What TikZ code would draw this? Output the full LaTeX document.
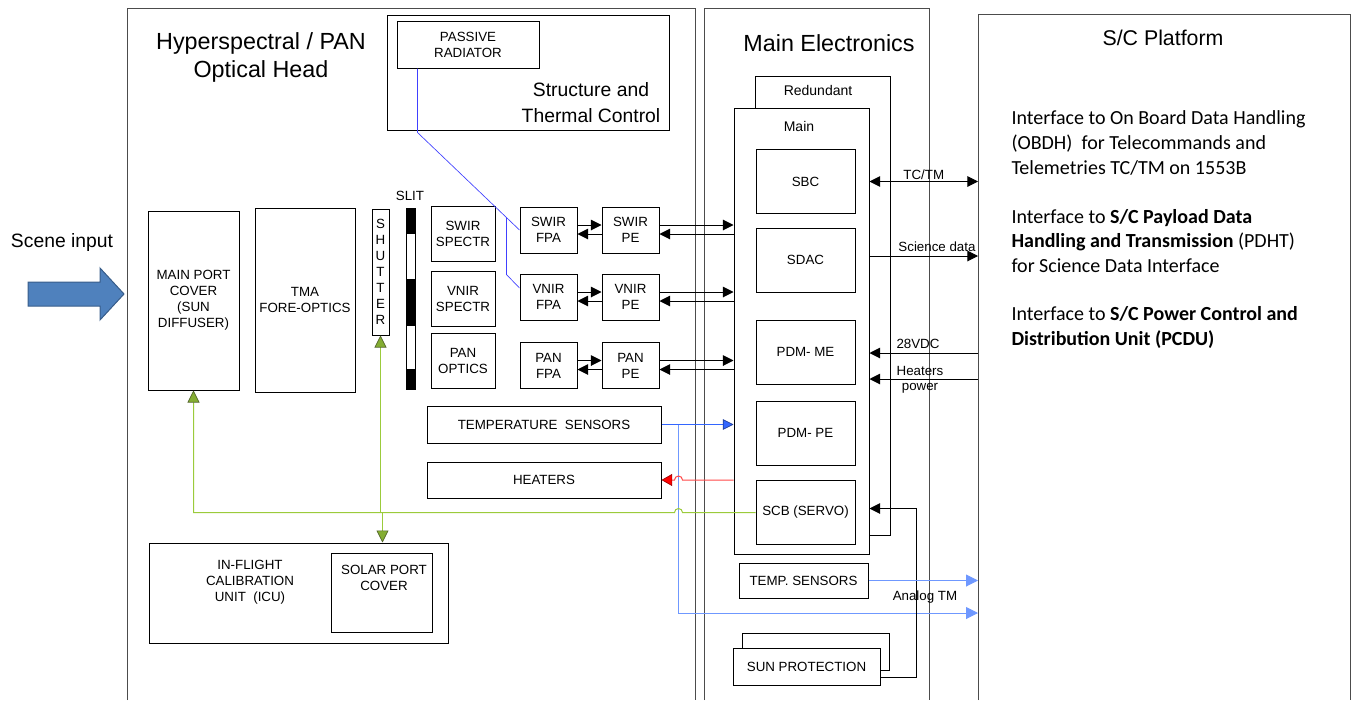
\documentclass[tikz,border=0pt]{standalone}
\usepackage{fontspec}
\setmainfont{Liberation Sans}
\newfontfamily\calibri{Carlito}
\usetikzlibrary{arrows.meta,calc}
\definecolor{lgreen}{HTML}{9BCB3B}
\definecolor{dgreen}{HTML}{4F6228}
\definecolor{sensblue}{HTML}{3366FF}
\definecolor{tmblue}{HTML}{6F98FF}
\definecolor{radblue}{HTML}{4040FF}
\definecolor{heatred}{HTML}{FF4848}
\definecolor{sceneA}{HTML}{4F81BD}
\definecolor{sceneB}{HTML}{385D8A}

\begin{document}
\begin{tikzpicture}[x=0.75pt,y=-0.75pt,line width=0.75pt,
    frame/.style={draw=black!70},
    box/.style={draw, inner sep=0pt, font=\fontsize{10}{12}\selectfont, align=center},
    sz/.style 2 args={minimum width=#1*0.75pt, minimum height=#2*0.75pt},
    lbl/.style={font=\fontsize{10}{12}\selectfont, align=center, inner sep=1pt},
    ttl/.style={font=\fontsize{17.5}{21}\selectfont, align=center},
    rt/.style={font=\calibri\fontsize{15}{18.4}\selectfont, align=left, inner sep=0pt, anchor=west},
    arr/.style={-{Triangle[length=8pt,width=8pt]}},
    dbl/.style={{Triangle[length=8pt,width=8pt]}-{Triangle[length=8pt,width=8pt]}},
    grn/.style={draw=lgreen, -{Triangle[length=9pt,width=9pt,fill=lgreen!85!black,color=dgreen,line width=0.5pt]}},
    sens/.style={draw=sensblue, -{Triangle[length=8pt,width=8pt,fill=sensblue,color=sensblue!60!black,line width=0.5pt]}},
    atm/.style={draw=tmblue, -{Triangle[length=9pt,width=9pt,fill=tmblue]}},
    heatl/.style={draw=heatred, -{Triangle[length=8pt,width=9pt,fill=red,color=red!60!black,line width=0.5pt]}}]
    \useasboundingbox (0,0) rectangle (1357,700);
    % --- scene input ---
    \draw[draw=sceneB, fill=sceneA] (28,282) -- (100,282) -- (100,268) -- (124,294)
      -- (100,320) -- (100,306) -- (28,306) -- cycle;
    \node[font=\fontsize{14.5}{17}\selectfont] (scene) at (62,242) {Scene input};
    % --- optical head ---
    \draw[frame] (127,700) |- (695,8) -- (695,700);
    \node[ttl] (headttl) at (261,57) {Hyperspectral / PAN\\Optical Head};
    \node[box, sz={282}{115}] (struct) at (528,72.5) {};
    \node[box, sz={142}{47}] (rad) at (468,44.5) {PASSIVE\\RADIATOR};
    \node[font=\fontsize{14.5}{20}\selectfont, align=center] (structttl) at (591,102.5) {Structure and\\Thermal Control};
    \node[box, sz={91}{179}] (port) at (193.5,300.5) {MAIN PORT\\COVER\\(SUN\\DIFFUSER)};
    \node[box, sz={100}{184}] (tma) at (305,300) {TMA\\FORE-OPTICS};
    \node[box, sz={17}{126}] (shutter) at (380.5,272) {S\\H\\U\\T\\T\\E\\R};
    \foreach \a/\b/\c in {208/233/black, 233/279/white, 279/325/black, 325/369/white, 369/389/black}
      \draw[fill=\c] (406,\a) rectangle (415,\b);
    \node[lbl] (slit) at (410,196) {SLIT};
    \foreach \n/\y/\t in {swirsp/234/{SWIR\\SPECTR}, vnirsp/298.5/{VNIR\\SPECTR}, pansp/360.5/{PAN\\OPTICS}}
      \node[box, sz={64}{55}] (\n) at (463,\y) {\t};
    \foreach \r/\y/\t in {swir/230/SWIR, vnir/297/VNIR, pan/365.5/PAN}{
      \node[box, sz={57}{46}] (fpa\r) at (548.5,\y) {\t\\FPA};
      \node[box, sz={57}{46}] (pe\r) at (630.5,\y) {\t\\PE};
      \draw[arr] ($(fpa\r.east)+(0,-5)$) -- ($(pe\r.west)+(0,-5)$);
      \draw[arr] ($(pe\r.west)+(0,4)$) -- ($(fpa\r.east)+(0,4)$);
      \coordinate (u\r) at ($(pe\r.east)+(0,-5)$);
      \coordinate (d\r) at ($(pe\r.east)+(0,4)$);
    }
    \node[box, sz={234}{37}] (tsens) at (544,424.5) {TEMPERATURE\ \ SENSORS};
    \node[box, sz={234}{36}] (heat) at (544,480) {HEATERS};
    \node[box, sz={299}{100}] (icu) at (298.5,593) {};
    \node[lbl] (icutxt) at (250,582) {IN-FLIGHT\\CALIBRATION\\UNIT\ \ (ICU)};
    \node[box, sz={101}{79}] (solar) at (381.5,592.5) {};
    \node[lbl] (solartxt) at (384,578) {SOLAR PORT\\COVER};
    % --- radiator link ---
    \coordinate (radk) at ($(rad.south west)+(21,64)$);
    \draw[radblue, line width=0.5pt] ($(rad.south west)+(21,0)$) -- (radk) -- (fpaswir.west);
    \coordinate (radb) at ($(radk)!0.8725!(fpaswir.west)$);
    \draw[radblue, line width=0.5pt] (radb) -- ($(radb)+(0,57)$) -- ($(fpavnir.west)+(0,-9)$);
    % --- main electronics ---
    \draw[frame] (704,700) |- (929,8) -- (929,700);
    \node[ttl] (mettl) at (829,43) {Main Electronics};
    \node[box, sz={135}{459}] (red) at (822.5,305.5) {};
    \node[font=\fontsize{10.5}{12}\selectfont] (redlbl) at (818,90) {Redundant};
    \node[box, fill=white, sz={135}{446}] (main) at (801.5,331) {};
    \node[font=\fontsize{10.5}{12}\selectfont] (mainlbl) at (799,126) {Main};
    \foreach \n/\y/\t in {sbc/181.5/SBC, sdac/260/SDAC, pdmme/352/{PDM- ME}, pdmpe/433/{PDM- PE}, scb/512.5/{SCB (SERVO)}}
      \node[box, sz={99}{64}] (\n) at (805.5,\y) {\t};
    \node[box, sz={129}{35}] (metemp) at (803.5,580.5) {TEMP. SENSORS};
    \node[box, sz={147}{37}] (sunb) at (815.5,651.5) {};
    \node[box, fill=white, sz={147}{37}] (sunf) at (806.5,666.5) {SUN PROTECTION};
    % --- s/c platform ---
    \draw[frame] (978,700) |- (1350,14) -- (1350,700);
    \coordinate (plat) at (978,14);
    \node[font=\fontsize{16}{19}\selectfont] (platttl) at (1163,38) {S/C Platform};
    \node[rt] (obdh) at (1011,143) {Interface to On Board Data Handling\\(OBDH)\ \ for Telecommands and\\Telemetries TC/TM on 1553B};
    \node[rt] (pdht) at (1011,241) {Interface to \textbf{S/C Payload Data}\\\textbf{Handling and Transmission} (PDHT)\\for Science Data Interface};
    \node[rt] (pcdu) at (1011,327.5) {Interface to \textbf{S/C Power Control and}\\\textbf{Distribution Unit (PCDU)}};
    % --- links to main ---
    \foreach \r in {swir,vnir,pan}{
      \draw[arr] (u\r) -- (u\r -| main.west);
      \draw[arr] (d\r -| main.west) -- (d\r);
    }
    \draw[dbl] (main.east |- sbc) -- (plat |- sbc) node[midway, above, lbl] {TC/TM};
    \draw[arr] ($(main.east |- sdac)+(0,-4)$) -- ($(plat |- sdac)+(0,-4)$);
    \node[lbl] (scilbl) at (937,247) {Science data};
    \draw[arr] ($(plat |- pdmme)+(0,1)$) -- ($(main.east |- pdmme)+(0,1)$);
    \node[lbl] (vdclbl) at (918,344) {28VDC};
    \draw[arr] ($(plat |- pdmme)+(0,27)$) -- ($(main.east |- pdmme)+(0,27)$);
    \node[lbl, font=\fontsize{10}{11}\selectfont] (hpwlbl) at (920,380) {Heaters\\power};
    % --- sensors, heaters, servo ---
    \draw[sens] (tsens.east) -- (tsens.east -| main.west);
    \coordinate (tap) at ($(tsens.east)+(17,0)$);
    \draw[atm] (tap) |- (plat |- 0,613);
    \draw[heatl] (main.west |- heat) -- ($(tap |- heat)+(4,0)$)
      arc[start angle=0, end angle=-180, radius=4] -- (heat.east);
    \draw[grn] (scb.west) -- ($(tap |- scb)+(4,0)$)
      arc[start angle=0, end angle=-180, radius=4] -| (port.south);
    \coordinate (gtap) at (shutter.south |- scb);
    \draw[grn] (gtap) -- (shutter.south);
    \draw[grn] ($(gtap)+(2,0)$) -- ($(icu.north -| gtap)+(2,0)$);
    \draw[arr] ($(sunf.east)+(0,11)$) -| ($(main.east |- scb)+(47,-4)$) -- ($(main.east |- scb)+(0,-4)$);
    \draw[atm] (metemp.east) -- (metemp.east -| plat);
    \node[lbl] (atmlbl) at (925,597) {Analog TM};
  \end{tikzpicture}
\end{document}
